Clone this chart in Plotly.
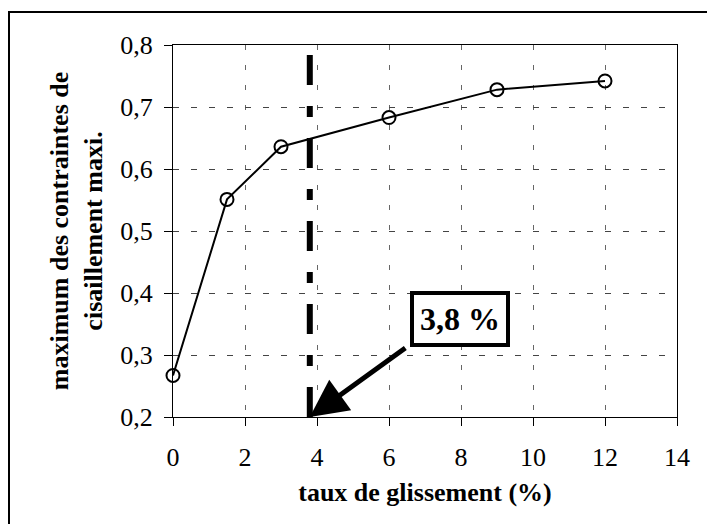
import plotly.graph_objects as go

# Data
taux = [0, 1.5, 3, 6, 9, 12]
contrainte = [0.267, 0.551, 0.636, 0.683, 0.728, 0.742]
seuil = 3.8
x_ticks = [0, 2, 4, 6, 8, 10, 12, 14]
y_ticks = [0.2, 0.3, 0.4, 0.5, 0.6, 0.7, 0.8]

font = "Liberation Serif"

fig = go.Figure()
fig.add_trace(go.Scatter(
    x=taux, y=contrainte, mode="lines+markers",
    line=dict(color="black", width=2),
    marker=dict(symbol="circle-open", size=13, color="black", line=dict(width=2)),
    showlegend=False, cliponaxis=False,
))

# vertical dash-dot line at the threshold
fig.add_shape(type="line", xref="x", yref="y", x0=seuil, x1=seuil, y0=0.2, y1=0.8,
              line=dict(color="black", width=6, dash="30px,21px,11px,21px"))

# outer frame (right and bottom fall outside the picture)
fig.add_shape(type="rect", xref="paper", yref="paper", x0=-0.3254, x1=1.2, y0=-0.5, y1=1.0887,
              line=dict(color="black", width=2), layer="below")

# arrow towards the threshold and its label
fig.add_annotation(x=seuil, y=0.2, xref="x", yref="y", text="", showarrow=True,
                   ax=97, ay=-70, arrowhead=2, arrowsize=1.5, arrowwidth=5,
                   arrowcolor="black", standoff=0)
fig.add_annotation(x=7.96, y=0.358, xref="x", yref="y", text="<b>3,8 %</b>",
                   showarrow=False, font=dict(family=font, size=32, color="black"),
                   bgcolor="white", bordercolor="black", borderwidth=4, borderpad=6)

# the page body adds an 8px margin, so the figure is 8px smaller than the window
fig.update_layout(
    width=707, height=516,
    margin=dict(l=165, r=38, t=37, b=107),
    paper_bgcolor="white", plot_bgcolor="white",
    separators=", ",
    font=dict(family=font, size=26, color="black"),
    xaxis=dict(
        range=[0, 14], tickvals=x_ticks, ticks="outside", ticklen=8,
        tickcolor="black", showline=True, linecolor="black", mirror=True,
        showgrid=True, gridcolor="#666", griddash="5px,15px", gridwidth=1,
        zeroline=False, ticklabelstandoff=9,
        title=dict(text="<b>taux de glissement (%)</b>", font=dict(size=26), standoff=11),
    ),
    yaxis=dict(
        range=[0.2, 0.8], tickvals=y_ticks, tickformat=".1f", ticks="outside",
        ticklen=8, tickcolor="black", showline=True, linecolor="black", mirror=True,
        showgrid=True, gridcolor="#444", griddash="6px,12px", gridwidth=1,
        zeroline=False, ticklabelstandoff=6,
        title=dict(text="<b>maximum des contraintes de<br>cisaillement maxi.</b>",
                   font=dict(size=26), standoff=10),
    ),
)

fig.write_html("out.html")
